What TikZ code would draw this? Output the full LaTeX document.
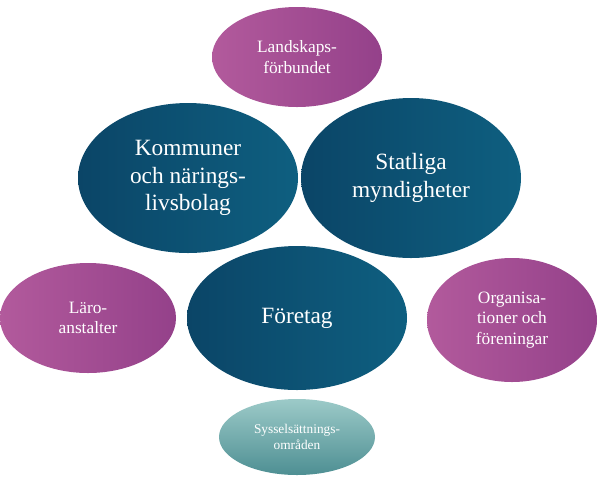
\documentclass[tikz,border=0pt]{standalone}
\usepackage{fontspec}
\setmainfont{Liberation Serif}
\usetikzlibrary{shapes.geometric}
\definecolor{purpleA}{HTML}{B25A9C}
\definecolor{purpleB}{HTML}{94418A}
\definecolor{blueA}{HTML}{0B4567}
\definecolor{blueB}{HTML}{0E5F80}
\definecolor{tealA}{HTML}{9CCAC8}
\definecolor{tealB}{HTML}{4E8F93}
\tikzset{
  oval/.style={ellipse, inner sep=0pt, align=center, text=white},
  small/.style={oval, left color=purpleA, right color=purpleB, font=\fontsize{13}{15.5}\selectfont},
  big/.style={oval, left color=blueA, right color=blueB, font=\fontsize{17.5}{20.5}\selectfont},
}
\begin{document}
\begin{tikzpicture}[x=0.75pt,y=-0.75pt]
  \useasboundingbox (0,0) rectangle (600,480);
  \node[small, minimum width=170*0.75pt, minimum height=100*0.75pt] (land) at (297,57) {Landskaps-\\förbundet};
  \node[small, minimum width=176*0.75pt, minimum height=110*0.75pt] (laro) at (88,318) {Läro-\\anstalter};
  \node[small, minimum width=170*0.75pt, minimum height=124*0.75pt] (org) at (512,320) {Organisa-\\tioner och\\föreningar};
  \node[big, minimum width=220*0.75pt, minimum height=150*0.75pt] (komm) at (188,178) {Kommuner\\och närings-\\livsbolag};
  \node[big, minimum width=220*0.75pt, minimum height=160*0.75pt] (stat) at (411,178) {Statliga\\myndigheter};
  \node[big, minimum width=220*0.75pt, minimum height=144*0.75pt] (fore) at (297,318) {Företag};
  \node[oval, top color=tealA, bottom color=tealB, font=\fontsize{10}{12}\selectfont,
        minimum width=156*0.75pt, minimum height=76*0.75pt] (syss) at (297,437) {Sysselsättnings-\\områden};
\end{tikzpicture}
\end{document}
